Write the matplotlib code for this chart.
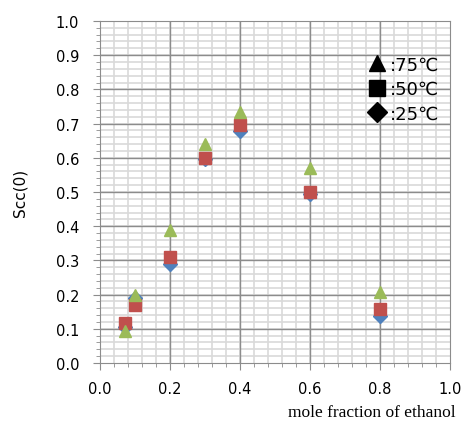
import numpy as np
import matplotlib.pyplot as plt
from matplotlib.lines import Line2D
from matplotlib.ticker import MultipleLocator

# data
x = [0.07, 0.1, 0.2, 0.3, 0.4, 0.6, 0.8]
scc_25 = [0.105, 0.19, 0.29, 0.595, 0.677, 0.495, 0.138]
scc_50 = [0.117, 0.17, 0.31, 0.60, 0.696, 0.50, 0.158]
scc_75 = [0.094, 0.20, 0.39, 0.64, 0.734, 0.57, 0.207]
labels = [':75\u2103', ':50\u2103', ':25\u2103']

fig = plt.figure(figsize=(4.62, 4.39), dpi=100)
ax = fig.add_axes([0.2165, 0.1708, 0.7575, 0.7792])

ax.set_xlim(0, 1)
ax.set_ylim(0, 1)
ax.xaxis.set_major_locator(MultipleLocator(0.2))
ax.xaxis.set_minor_locator(MultipleLocator(0.04))
ax.yaxis.set_major_locator(MultipleLocator(0.1))
ax.yaxis.set_minor_locator(MultipleLocator(0.02))
ax.xaxis.set_major_formatter('{x:.1f}')
ax.yaxis.set_major_formatter('{x:.1f}')

# grid drawn by hand so the major lines sit on top of the minor ones
for v in np.arange(0.04, 1.0, 0.04):
    ax.axvline(v, color='#d9d9d9', lw=1.2, zorder=0.5)
for v in np.arange(0.02, 1.0, 0.02):
    ax.axhline(v, color='#d9d9d9', lw=1.2, zorder=0.5)
for v in np.arange(0.2, 1.0, 0.2):
    ax.axvline(v, color='#8c8c8c', lw=1.0, zorder=0.6)
for v in np.arange(0.1, 1.0, 0.1):
    ax.axhline(v, color='#8c8c8c', lw=1.0, zorder=0.6)

for s in ax.spines.values():
    s.set_color('#8c8c8c')
ax.tick_params(which='both', colors='#8c8c8c', labelcolor='black', labelsize=10.5)
ax.tick_params(which='major', length=5)
ax.tick_params(axis='y', which='major', pad=10)
ax.tick_params(axis='x', which='major', pad=8)
ax.tick_params(which='minor', length=3)

ax.plot(x, scc_25, 'D', color='#4f81bd', ms=7, mec='#4f81bd', zorder=3)
ax.plot(x, scc_50, 's', color='#c0504d', ms=9, mec='#c0504d', zorder=4)
ax.plot(x, scc_75, '^', color='#9bbb59', ms=9, mec='#9bbb59', zorder=5)

handles = [Line2D([], [], ls='none', marker='^', color='black', ms=12),
           Line2D([], [], ls='none', marker='s', color='black', ms=11),
           Line2D([], [], ls='none', marker='D', color='black', ms=10)]
leg = ax.legend(handles, labels, loc='upper right', bbox_to_anchor=(1.0, 0.93),
                frameon=False, fontsize=13, handlelength=1.0, handletextpad=0.2,
                labelspacing=0.35, borderaxespad=0.2)

ax.set_ylabel('Scc(0)', fontsize=11, labelpad=20)
ax.set_xlabel('mole fraction of ethanol', fontsize=12.5, family='Liberation Serif')
ax.xaxis.set_label_coords(1.015, -0.12)
ax.xaxis.label.set_ha('right')

fig.savefig('out.png', dpi=100)
